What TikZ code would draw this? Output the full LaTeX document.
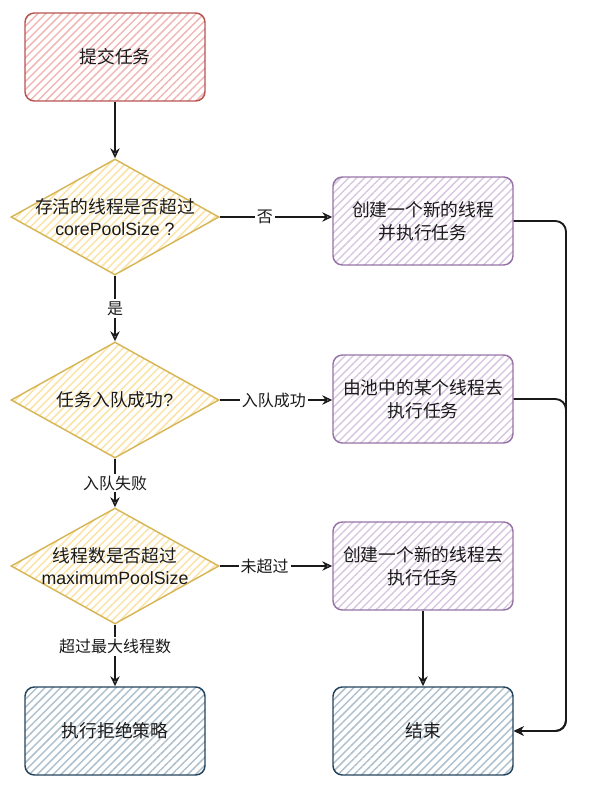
\documentclass[tikz,border=0pt]{standalone}
\usepackage{fontspec}
\setmainfont{Liberation Sans}
\newfontfamily\cjk{Noto Sans CJK SC}
\usetikzlibrary{shapes.geometric, arrows.meta, patterns.meta}
\definecolor{startline}{HTML}{B85450}
\definecolor{startfill}{HTML}{F0B8B6}
\definecolor{askline}{HTML}{D6B656}
\definecolor{askfill}{HTML}{FBE3A6}
\definecolor{workline}{HTML}{9673A6}
\definecolor{workfill}{HTML}{D9C8E2}
\definecolor{endline}{HTML}{23445D}
\definecolor{endfill}{HTML}{AFC0CD}
\definecolor{ink}{HTML}{1A1A1A}

\begin{document}
\begin{tikzpicture}[
    x=0.75pt, y=-0.75pt,
    box/.style={rectangle, rounded corners=7pt, draw=#1line, line width=1.1pt,
        pattern={Lines[angle=45, distance=4.2pt, line width=1.1pt]}, pattern color=#1fill,
        minimum width=135pt, minimum height=66pt, align=center, text=ink,
        font=\cjk\fontsize{13.3}{17}\selectfont},
    ask/.style={diamond, draw=askline, line width=1.1pt, inner sep=0pt,
        pattern={Lines[angle=45, distance=4.2pt, line width=1.1pt]}, pattern color=askfill,
        minimum width=156pt, minimum height=87pt},
    asktext/.style={align=center, text=ink, font=\fontsize{13.3}{17}\selectfont},
    arrow/.style={-{Stealth[open, length=7.5pt, width=7pt, inset=2.5pt]}, line width=1.1pt, draw=ink},
    tag/.style={fill=white, inner sep=1.5pt, text=ink, font=\cjk\fontsize{12}{14}\selectfont}
]
\useasboundingbox (0,0) rectangle (590,788);

% left column
\node[box=start] (submit) at (115,57) {提交任务};
\node[ask] (core) at (115,217) {};
\node[asktext] (coretext) at (core) {{\cjk 存活的线程是否超过}\\corePoolSize ?};
\node[ask] (queue) at (115,400) {};
\node[asktext] (queuetext) at (queue) {{\cjk 任务入队成功}?};
\node[ask] (max) at (115,566) {};
\node[asktext] (maxtext) at (max) {{\cjk 线程数是否超过}\\maximumPoolSize};
\node[box=end] (reject) at (115,731) {执行拒绝策略};

% right column
\node[box=work] (newcore) at (423,221) {创建一个新的线程\\并执行任务};
\node[box=work] (pool) at (423,399) {由池中的某个线程去\\执行任务};
\node[box=work] (newmax) at (423,566) {创建一个新的线程去\\执行任务};
\node[box=end] (finish) at (423,731) {结束};
\coordinate (rail) at (566,731);

\draw[arrow] (submit) -- (core);
\draw[arrow] (core) -- node[tag] {是} (queue);
\draw[arrow] (queue) -- node[tag] {入队失败} (max);
\draw[arrow] (max) -- node[tag, pos=0.36] {超过最大线程数} (reject);
\draw[arrow] (core.east) -- node[tag, pos=0.4] {否} (newcore.west |- core.east);
\draw[arrow] (queue.east) -- node[tag, pos=0.48] {入队成功} (pool.west |- queue.east);
\draw[arrow] (max.east) -- node[tag, pos=0.4] {未超过} (newmax.west |- max.east);
\draw[arrow] (newmax) -- (finish);
\draw[arrow, line width=1.4pt, rounded corners=8pt] (newcore.east) -| (rail) -- (finish.east);
\draw[arrow, line width=1.4pt, rounded corners=8pt] (pool.east) -| (rail) -- (finish.east);

\end{tikzpicture}
\end{document}
